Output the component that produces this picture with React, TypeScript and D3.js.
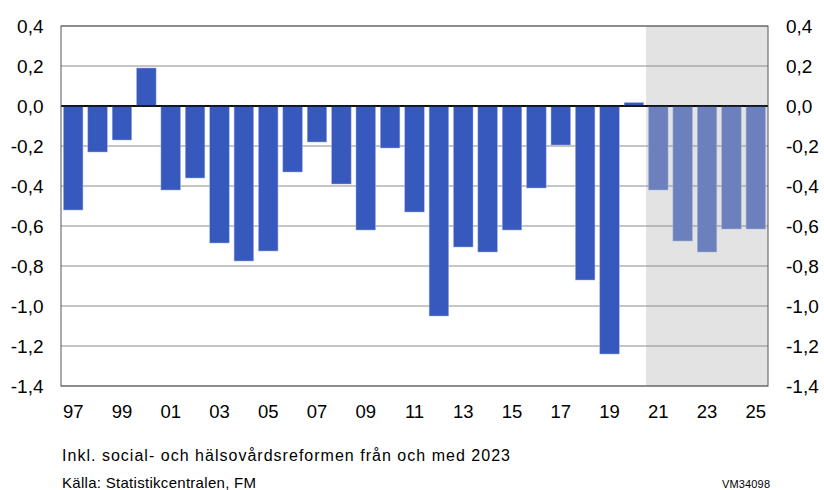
import React from "react";
import * as d3 from "d3";

const years = [1997,1998,1999,2000,2001,2002,2003,2004,2005,2006,2007,2008,2009,2010,2011,2012,2013,2014,2015,2016,2017,2018,2019,2020,2021,2022,2023,2024,2025];
const values = [-0.52,-0.23,-0.17,0.19,-0.42,-0.36,-0.685,-0.775,-0.725,-0.33,-0.18,-0.39,-0.62,-0.21,-0.53,-1.05,-0.705,-0.73,-0.62,-0.41,-0.195,-0.87,-1.24,0.017,-0.42,-0.675,-0.73,-0.615,-0.615];
const forecastStart = 2021;
const yTicks = [0.4,0.2,0,-0.2,-0.4,-0.6,-0.8,-1.0,-1.2,-1.4];
const footnote = "Inkl. social- och hälsovårdsreformen från och med 2023";
const source = "Källa: Statistikcentralen, FM";
const code = "VM34098";

const W = 824, H = 490;
const L = 61, R = 768, T = 26, B = 386;
const font = "'Liberation Sans', Arial, sans-serif";

export default function App() {
  const x = d3.scaleBand<number>().domain(years).range([L, R]).paddingInner(0.2).paddingOuter(0.1);
  const y = d3.scaleLinear().domain([-1.4, 0.4]).range([B, T]);
  const fmt = (v: number) => d3.format(".1f")(v).replace(".", ",").replace("−", "-");
  const shadeX = x(forecastStart)! - (x.step() - x.bandwidth()) / 2;
  return (
    <svg width={W} height={H} style={{ position: "absolute", left: 0, top: 0, background: "#fff" }} fontFamily={font}>
      <rect x={shadeX} y={T} width={R - shadeX} height={B - T} fill="#e3e3e3" />
      {yTicks.map((t) => (
        <line key={t} x1={L} x2={R} y1={y(t)} y2={y(t)} stroke={t === 0 ? "#000" : "#8c8c8c"} strokeWidth={t === 0 ? 1.5 : 1} />
      ))}
      {years.map((yr, i) => {
        const v = values[i];
        const fc = yr >= forecastStart;
        return (
          <rect key={yr} x={x(yr)} width={x.bandwidth()} y={y(Math.max(0, v))} height={Math.abs(y(v) - y(0))}
            fill={fc ? "#6b80bd" : "#3759bd"} stroke={fc ? "#a9b6dc" : "#9fb0e6"} strokeWidth={0.5} />
        );
      })}
      <line x1={L} x2={R} y1={y(0)} y2={y(0)} stroke="#000" strokeWidth={1.5} />
      <rect x={L} y={T} width={R - L} height={B - T} fill="none" stroke="#555" strokeWidth={1} />
      {yTicks.map((t) => (
        <g key={"l" + t} fontSize={19} fill="#000">
          <text x={43.5} y={y(t)} dy="0.36em" textAnchor="end">{fmt(t)}</text>
          <text x={786} y={y(t)} dy="0.36em" textAnchor="start">{fmt(t)}</text>
        </g>
      ))}
      {years.filter((yr) => yr % 2 === 1).map((yr) => (
        <text key={"x" + yr} x={x(yr)! + x.bandwidth() / 2} y={418} textAnchor="middle" fontSize={18.5}>
          {String(yr % 100).padStart(2, "0")}
        </text>
      ))}
      <text x={62} y={461} fontSize={16} textLength={448} lengthAdjust="spacing" fill="#000">{footnote}</text>
      <text x={62} y={488} fontSize={15} textLength={194} lengthAdjust="spacing" fill="#000">{source}</text>
      <text x={722} y={488} fontSize={11} textLength={48} lengthAdjust="spacing" fill="#000">{code}</text>
    </svg>
  );
}
